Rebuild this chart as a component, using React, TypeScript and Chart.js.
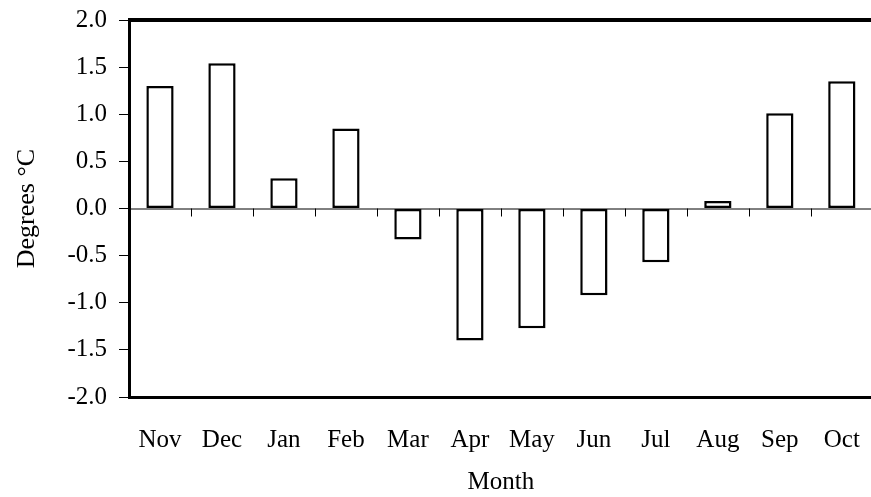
import React, { useEffect, useRef } from "react";
import { Chart, registerables } from "chart.js";

Chart.register(...registerables);

const months = ["Nov", "Dec", "Jan", "Feb", "Mar", "Apr", "May", "Jun", "Jul", "Aug", "Sep", "Oct"];
const anomalies = [1.3, 1.54, 0.32, 0.85, -0.33, -1.4, -1.27, -0.92, -0.57, 0.08, 1.01, 1.35];
const yMin = -2;
const yMax = 2;
const yStep = 0.5;

const FONT = "'Liberation Serif', 'Times New Roman', serif";

const framePlugin = {
  id: "frame",
  afterDatasetsDraw(chart: any) {
    const { ctx, chartArea, scales } = chart;
    const x = scales.x;
    const y = scales.y;
    const y0 = y.getPixelForValue(0);
    ctx.save();
    ctx.strokeStyle = "#000";
    // zero line
    ctx.lineWidth = 1;
    ctx.beginPath();
    ctx.moveTo(chartArea.left, y0 + 0.5);
    ctx.lineTo(chartArea.right, y0 + 0.5);
    ctx.stroke();
    // category boundary ticks below zero line
    for (let i = 1; i <= months.length; i++) {
      const bx =
        i < months.length
          ? (x.getPixelForValue(i - 1) + x.getPixelForValue(i)) / 2
          : chartArea.right;
      ctx.beginPath();
      ctx.moveTo(Math.round(bx) + 0.5, y0);
      ctx.lineTo(Math.round(bx) + 0.5, y0 + 8);
      ctx.stroke();
    }
    // top border
    ctx.lineWidth = 4;
    ctx.beginPath();
    ctx.moveTo(chartArea.left - 1, chartArea.top);
    ctx.lineTo(chartArea.right + 5, chartArea.top);
    ctx.stroke();
    ctx.restore();
  },
};

export default function App() {
  const ref = useRef<HTMLCanvasElement>(null);
  useEffect(() => {
    if (!ref.current) return;
    const chart = new Chart(ref.current, {
      type: "bar",
      data: {
        labels: months,
        datasets: [
          {
            data: anomalies,
            backgroundColor: "#ffffff",
            borderColor: "#000000",
            borderWidth: 2.5,
            borderSkipped: false,
            categoryPercentage: 1,
            barPercentage: 0.44,
          },
        ],
      },
      options: {
        animation: false,
        responsive: false,
        maintainAspectRatio: false,
        layout: { padding: { top: 12, right: 3, left: 0, bottom: 0 } },
        plugins: { legend: { display: false }, tooltip: { enabled: false } },
        scales: {
          x: {
            grid: { display: false, drawTicks: false },
            border: { display: true, width: 3, color: "#000" },
            ticks: { color: "#000", font: { family: FONT, size: 25 }, padding: 28, maxRotation: 0 },
            title: {
              display: true,
              text: "Month",
              color: "#000",
              font: { family: FONT, size: 25 },
              padding: { top: 0, bottom: 0 },
            },
            afterFit: (s: any) => {
              s.height = 100;
            },
          },
          y: {
            min: yMin,
            max: yMax,
            grid: { display: true, drawOnChartArea: false, drawTicks: true, tickLength: 10, color: "#000" },
            border: { display: true, width: 3, color: "#000" },
            ticks: {
              stepSize: yStep,
              color: "#000",
              font: { family: FONT, size: 25 },
              padding: 12,
              callback: (v: any) => Number(v).toFixed(1),
            },
            title: {
              display: true,
              text: "Degrees °C",
              color: "#000",
              font: { family: FONT, size: 26 },
              padding: { top: 4, bottom: 0 },
            },
            afterFit: (s: any) => {
              s.width = 121;
              s.paddingTop = 0;
              s.paddingBottom = 0;
            },
          },
        },
      },
      plugins: [framePlugin],
    });
    return () => chart.destroy();
  }, []);
  return (
    <div style={{ position: "fixed", left: 8, top: 8, width: 863, height: 489, overflow: "hidden" }}>
      <canvas ref={ref} width={880} height={489} style={{ display: "block", width: 880, height: 489 }} />
    </div>
  );
}
